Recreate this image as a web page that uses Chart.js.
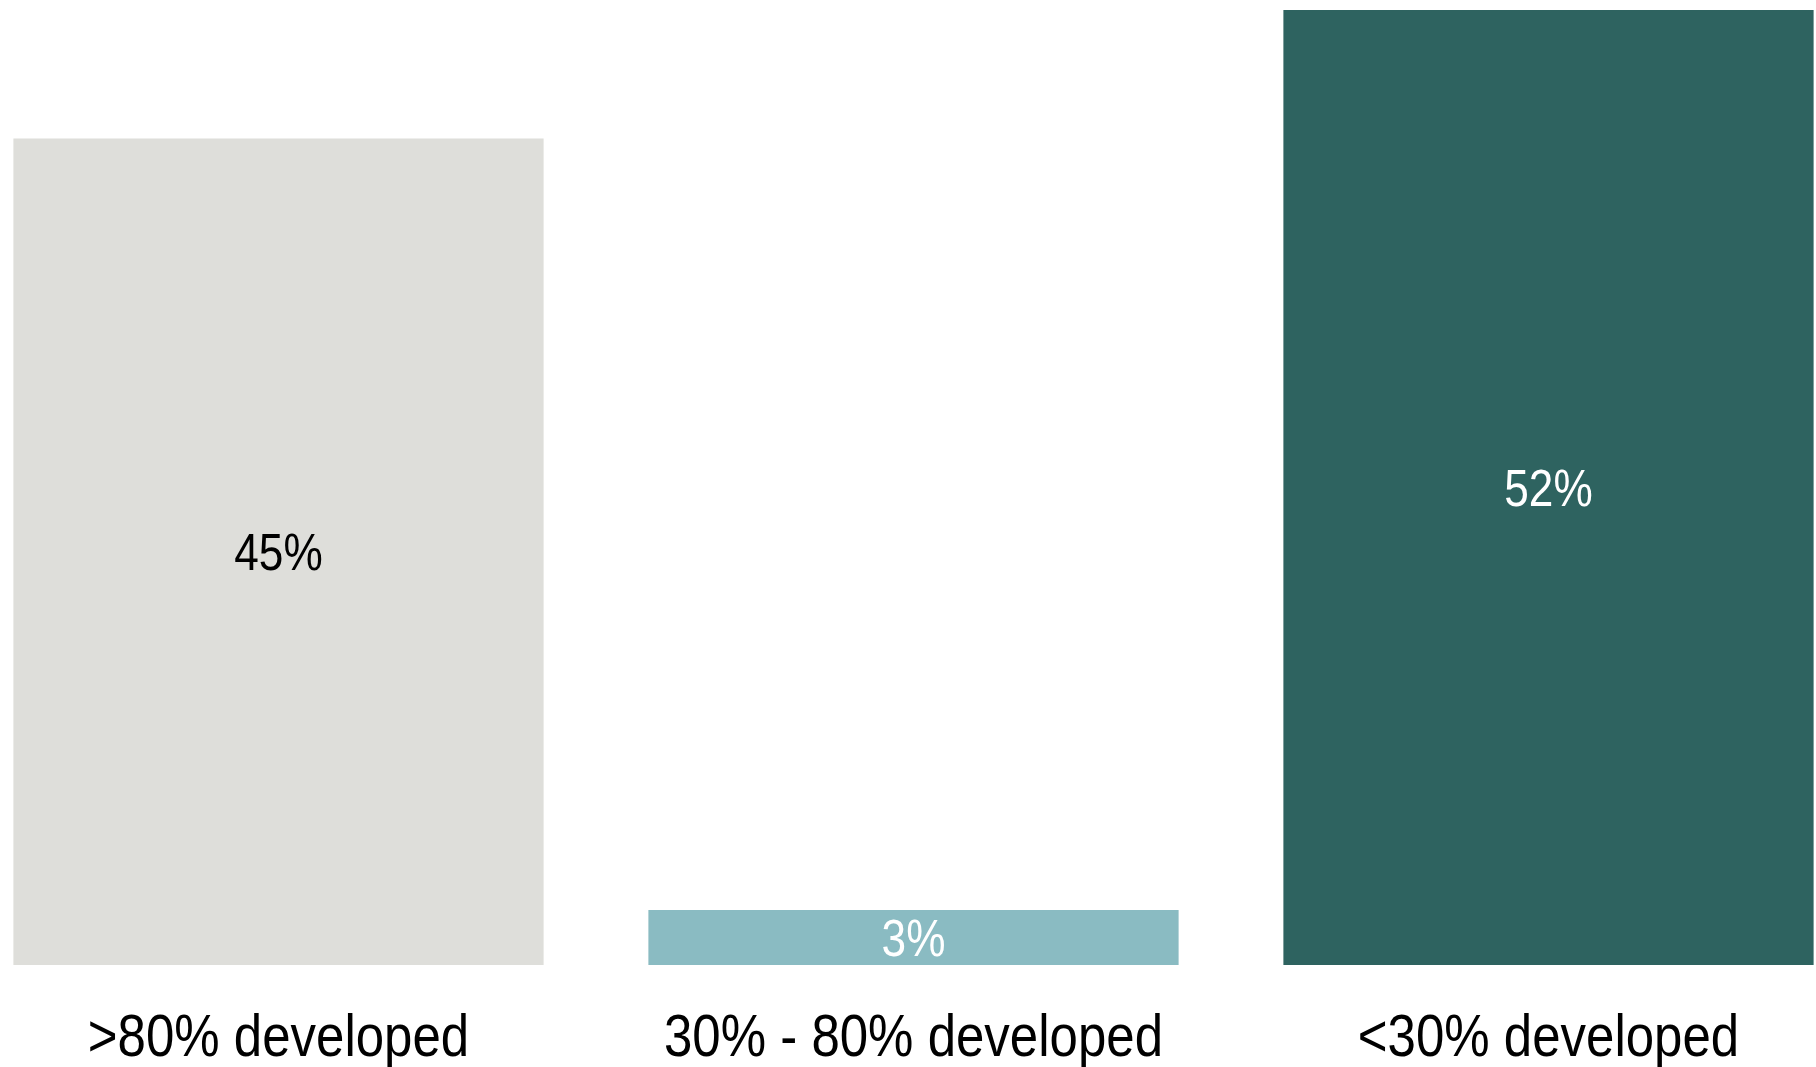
<!DOCTYPE html>
<html>
<head>
<meta charset="utf-8">
<script src="https://cdn.jsdelivr.net/npm/chart.js@4"></script>
<style>
    html, body { margin: 0; padding: 0; background: #fff; overflow: hidden; }
    #wrap { position: absolute; left: -39px; top: 0; width: 1905px; height: 1067px; }
</style>
</head>
<body>
<div id="wrap"><canvas id="chart"></canvas></div>
<script>
// Donnees
const categories = ['>80% developed', '30% - 80% developed', '<30% developed'];
const shares = [45, 3, 52];
const barColors = ['#DEDEDA', '#8ABBC2', '#2E6360'];
const labelColors = ['#000000', '#FFFFFF', '#FFFFFF'];

const fontFamily = "'Liberation Sans', Arial, sans-serif";
const narrow = 0.85; // la police d'origine est condensee

// Texte condense centre sur x, ligne de base sur y
function drawNarrowText(ctx, text, x, y, size, color) {
    ctx.save();
    ctx.font = `${size}px ${fontFamily}`;
    ctx.fillStyle = color;
    ctx.textAlign = 'center';
    ctx.textBaseline = 'alphabetic';
    ctx.translate(x, y);
    ctx.scale(narrow, 1);
    ctx.fillText(text, 0, 0);
    ctx.restore();
}

// Etiquettes des barres et des categories
const barTexts = {
    id: 'barTexts',
    afterDatasetsDraw(chart) {
        const ctx = chart.ctx;
        const meta = chart.getDatasetMeta(0);
        const xScale = chart.scales.x;
        meta.data.forEach((bar, i) => {
            const mid = (bar.y + bar.base) / 2;
            drawNarrowText(ctx, shares[i] + '%', bar.x, mid + 18.5, 52, labelColors[i]);
            const cx = xScale.getPixelForValue(i);
            drawNarrowText(ctx, categories[i], cx, chart.chartArea.bottom + 91, 60, '#000000');
        });
    }
};

new Chart(document.getElementById('chart'), {
    type: 'bar',
    data: {
        labels: categories,
        datasets: [{
            data: shares,
            backgroundColor: barColors,
            borderWidth: 0,
            barPercentage: 1,
            categoryPercentage: 0.835
        }]
    },
    options: {
        responsive: true,
        maintainAspectRatio: false,
        animation: false,
        layout: { padding: { top: 10, left: 0, right: 0, bottom: 102 } },
        plugins: {
            legend: { display: false },
            tooltip: { enabled: false }
        },
        scales: {
            x: {
                display: false
            },
            y: {
                display: false,
                min: 0,
                max: 52
            }
        }
    },
    plugins: [barTexts]
});
</script>
</body>
</html>
